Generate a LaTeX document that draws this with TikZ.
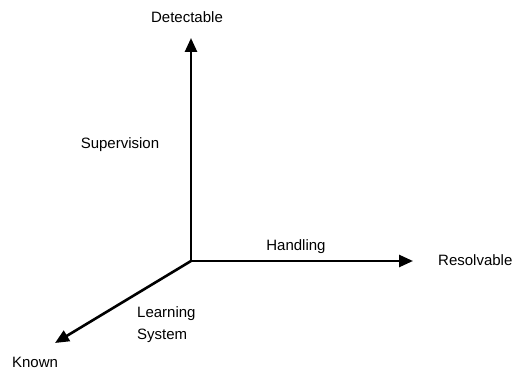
\documentclass[tikz,border=0pt]{standalone}
\usepackage{fontspec}
\setmainfont{Liberation Sans}
\usepackage{tikz}
\usetikzlibrary{arrows.meta}

\begin{document}
\begin{tikzpicture}[x=1pt,y=-1pt,
        axis/.style={line width=2.6pt,-{Triangle[length=14pt,width=12pt]}},
        lbl/.style={inner sep=0pt,font=\fontsize{15}{22}\selectfont},
        lbl/.default=base]

        \useasboundingbox (0,0) rectangle (515,374);

        \coordinate (origin) at (191,261);
        \coordinate (top) at (191,38);
        \coordinate (right) at (413,261);
        \coordinate (corner) at (55,343);

        \node [lbl, anchor=base] at (187,23) (detectable) {Detectable};
        \node [lbl, anchor=base] at (120,149) (supervision) {Supervision};
        \node [lbl, anchor=base] at (296,251) (handling) {Handling};
        \node [lbl, anchor=base west] at (438,266) (resolvable) {Resolvable};
        \node [lbl, anchor=base west] at (137,318) (learning) {Learning};
        \node [lbl, anchor=base west] at (137,340) (system) {System};
        \node [lbl, anchor=base] at (35,368) (known) {Known};

        \draw [axis] (origin) -- (top);
        \draw [axis] (origin) -- (right);
        \draw [axis] (origin) -- (corner);

    \end{tikzpicture}
\end{document}
